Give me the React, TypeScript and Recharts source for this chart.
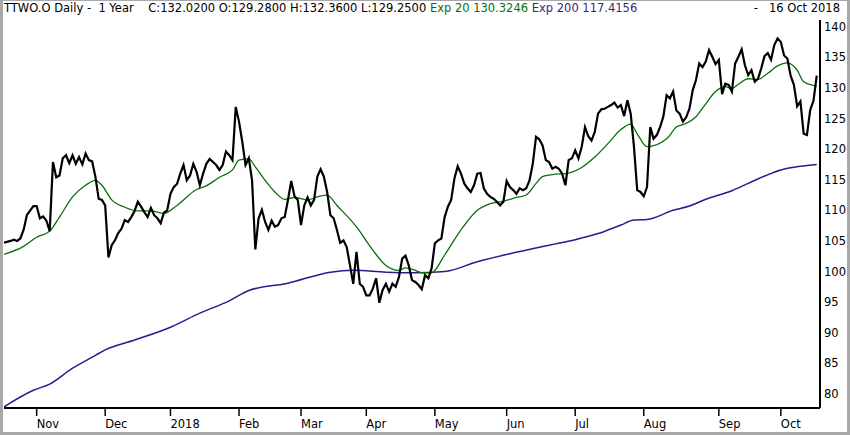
import React from "react";
import { LineChart, XAxis, YAxis, Line } from "recharts";

// trading-day index (0 = first bar on the chart) and value
const closePrices: [number, number][] = [
  [0, 104.7], [2, 105.0], [3, 105.2], [4, 105.0], [5, 105.4], [6, 106.8], [7, 109.2], [9, 110.7],
  [10, 110.7], [11, 108.7], [12, 109.0], [13, 108.3], [14, 106.6], [15, 117.9], [16, 115.4], [17, 115.7],
  [18, 118.5], [19, 119.0], [20, 117.7], [21, 119.0], [22, 117.6], [23, 118.7], [24, 117.5], [25, 119.3],
  [26, 118.2], [27, 118.0], [28, 115.5], [29, 111.9], [30, 111.7], [31, 110.8], [32, 102.3], [33, 104.3],
  [34, 105.1], [35, 106.3], [36, 107.0], [37, 108.4], [38, 108.1], [39, 108.9], [40, 109.9], [41, 111.4],
  [42, 110.6], [43, 109.7], [44, 108.9], [45, 110.4], [46, 109.2], [47, 108.7], [48, 107.9], [49, 109.6],
  [50, 110.0], [51, 112.7], [52, 113.8], [53, 114.3], [54, 116.0], [55, 117.4], [56, 114.9], [57, 115.7],
  [58, 117.6], [59, 116.3], [60, 114.1], [61, 116.0], [62, 117.6], [63, 118.4], [65, 117.4], [66, 116.6],
  [67, 117.4], [68, 119.6], [69, 119.0], [70, 118.2], [71, 126.9], [72, 124.5], [73, 121.2], [74, 117.4],
  [75, 118.5], [76, 114.9], [77, 103.6], [78, 108.7], [79, 110.1], [80, 108.1], [81, 106.8], [82, 108.3],
  [83, 107.3], [84, 107.6], [85, 108.7], [86, 108.9], [87, 111.7], [88, 114.8], [89, 112.3], [90, 111.7],
  [91, 107.6], [92, 110.8], [93, 112.1], [94, 110.8], [95, 111.7], [96, 115.5], [97, 116.7], [98, 115.5],
  [99, 113.0], [100, 109.2], [101, 108.7], [102, 106.8], [103, 104.7], [104, 105.1], [105, 104.0], [106, 101.0],
  [107, 98.0], [108, 103.2], [109, 98.0], [110, 97.5], [111, 96.1], [112, 96.1], [113, 97.2], [114, 98.9],
  [115, 94.9], [116, 97.0], [117, 98.0], [118, 96.7], [119, 98.0], [120, 97.5], [121, 99.1], [122, 102.1],
  [123, 102.6], [124, 101.0], [125, 98.6], [126, 98.3], [127, 97.8], [128, 97.1], [129, 99.4], [130, 98.9],
  [131, 100.5], [132, 104.6], [133, 105.1], [134, 105.4], [135, 108.9], [136, 110.6], [137, 111.7], [138, 115.2],
  [139, 117.2], [140, 116.0], [141, 114.4], [142, 113.6], [143, 113.0], [144, 114.1], [145, 116.0], [146, 116.1],
  [147, 113.6], [148, 112.7], [149, 112.2], [150, 111.9], [151, 111.4], [152, 110.8], [153, 111.4], [154, 114.8],
  [155, 113.8], [156, 113.3], [157, 112.7], [158, 113.6], [159, 113.3], [160, 113.6], [161, 114.9], [162, 117.6],
  [163, 122.0], [164, 121.6], [165, 120.6], [166, 118.2], [167, 117.9], [168, 116.8], [169, 117.1], [170, 116.8],
  [171, 116.0], [172, 114.1], [173, 118.2], [174, 118.5], [175, 119.8], [176, 118.5], [177, 120.4], [178, 123.6],
  [179, 122.1], [180, 121.4], [181, 122.8], [182, 125.8], [183, 126.5], [184, 126.6], [185, 126.9], [186, 127.2],
  [187, 127.6], [188, 126.8], [189, 127.2], [190, 125.4], [191, 128.0], [192, 125.8], [193, 120.4], [194, 113.3],
  [195, 113.0], [196, 112.3], [197, 113.8], [198, 123.6], [199, 121.7], [200, 122.3], [201, 123.6], [202, 125.3],
  [203, 128.8], [204, 128.3], [205, 129.4], [206, 126.3], [207, 125.8], [208, 124.5], [209, 125.2], [210, 126.6],
  [211, 129.6], [212, 131.3], [213, 134.0], [214, 133.4], [215, 134.3], [216, 136.2], [217, 135.1], [218, 133.9],
  [219, 134.6], [220, 129.0], [221, 130.7], [222, 130.5], [223, 129.4], [224, 134.0], [225, 135.1], [226, 136.3],
  [227, 133.7], [228, 132.1], [229, 132.9], [230, 131.0], [231, 131.5], [232, 133.2], [233, 135.2], [234, 135.7],
  [235, 134.6], [236, 137.0], [237, 138.1], [238, 137.5], [239, 135.3], [240, 134.8], [241, 132.0], [242, 130.5],
  [243, 127.0], [244, 127.8], [245, 122.5], [246, 122.3], [247, 126.4], [248, 127.9], [249, 132.0],
];

const exp20: [number, number][] = [
  [0, 102.8], [6, 104.1], [10, 105.6], [14, 106.6], [17, 108.9], [21, 112.2], [25, 114.1], [28, 114.9],
  [30, 114.1], [33, 111.7], [37, 110.5], [41, 109.9], [45, 109.9], [49, 109.5], [53, 110.8], [59, 113.4],
  [62, 114.0], [66, 115.4], [70, 116.6], [72, 118.2], [75, 118.4], [77, 117.1], [80, 114.9], [83, 113.0],
  [86, 111.8], [89, 112.1], [93, 111.7], [96, 112.2], [99, 112.5], [102, 110.8], [108, 107.3], [113, 103.5],
  [117, 101.0], [121, 100.2], [123, 100.6], [126, 100.2], [128, 99.8], [131, 99.8], [135, 102.7], [140, 106.8],
  [145, 110.0], [149, 111.1], [153, 111.5], [157, 112.1], [160, 112.5], [163, 114.4], [165, 115.5], [169, 115.9],
  [172, 116.0], [177, 117.0], [181, 118.7], [185, 120.9], [189, 123.2], [192, 124.1], [194, 122.5], [197, 120.4],
  [203, 121.7], [206, 123.6], [209, 124.2], [212, 125.3], [215, 127.4], [218, 129.4], [221, 130.2], [223, 129.9],
  [225, 130.6], [228, 131.5], [231, 131.4], [234, 132.4], [237, 133.6], [240, 134.1], [243, 132.9], [245, 131.0],
  [248, 130.4], [249, 130.3],
];

const exp200: [number, number][] = [
  [0, 77.9], [9, 80.6], [14, 81.6], [21, 84.2], [28, 86.3], [31, 87.2], [40, 88.8], [51, 90.9],
  [60, 93.2], [69, 95.2], [75, 96.9], [87, 98.1], [100, 99.9], [107, 100.2], [117, 99.9], [126, 99.8],
  [135, 100.0], [145, 101.6], [155, 102.9], [167, 104.3], [175, 105.2], [182, 106.2], [189, 107.6], [193, 108.4],
  [197, 108.5], [205, 110.0], [210, 110.7], [215, 111.8], [223, 113.2], [228, 114.4], [238, 116.6], [244, 117.2],
  [249, 117.5],
];

const monthTicks = [10, 31, 51, 72, 91, 111, 132, 154, 175, 196, 219, 238];
const monthLabels = ["Nov", "Dec", "2018", "Feb", "Mar", "Apr", "May", "Jun", "Jul", "Aug", "Sep", "Oct"];
const priceTicks = [80, 85, 90, 95, 100, 105, 110, 115, 120, 125, 130, 135, 140];

const toRows = (pts: [number, number][]) => pts.map(([day, v]) => ({ day, v }));

const FONT = "'DejaVu Sans', sans-serif";

const MonthTick = (props: any) => {
  const { x, y, payload } = props;
  const label = monthLabels[monthTicks.indexOf(payload.value)];
  return (
    <text x={x} y={y} dy="0.71em" textAnchor="start" fontSize={11.5} fontFamily={FONT} fill="#000">
      {label}
    </text>
  );
};

export default function App() {
  return (
    <div style={{ position: "absolute", left: 0, top: 0, width: 850, height: 435, background: "#fff" }}>
      <LineChart width={850} height={435} margin={{ top: 20, right: 0, bottom: 0, left: 4 }}>
        <XAxis
          type="number"
          dataKey="day"
          domain={[0, 250]}
          ticks={monthTicks}
          allowDataOverflow
          height={27}
          axisLine={{ stroke: "#000", strokeWidth: 2 }}
          tickLine={{ stroke: "#000", strokeWidth: 1.5 }}
          tickSize={8}
          tickMargin={4}
          tick={<MonthTick />}
        />
        <YAxis
          orientation="right"
          type="number"
          domain={[77.7, 141.1]}
          ticks={priceTicks}
          allowDataOverflow
          width={30}
          axisLine={{ stroke: "#000", strokeWidth: 2 }}
          tickLine={false}
          tickSize={0}
          tickMargin={4}
          tick={{ fontSize: 11.5, fontFamily: FONT, fill: "#000" }}
        />
        <Line
          data={toRows(exp200)}
          dataKey="v"
          type="monotone"
          stroke="#35168f"
          strokeWidth={1.5}
          dot={false}
          isAnimationActive={false}
        />
        <Line
          data={toRows(exp20)}
          dataKey="v"
          type="monotone"
          stroke="#0a700a"
          strokeWidth={1.3}
          dot={false}
          isAnimationActive={false}
        />
        <Line
          data={toRows(closePrices)}
          dataKey="v"
          type="linear"
          stroke="#000"
          strokeWidth={2.2}
          dot={false}
          isAnimationActive={false}
        />
      </LineChart>
      <div
        style={{
          position: "absolute",
          left: 4,
          top: 1,
          fontFamily: FONT,
          fontSize: 11.5,
          lineHeight: "14px",
          whiteSpace: "pre",
          color: "#000",
        }}
      >
        {"TTWO.O Daily -  1 Year    C:132.0200 O:129.2800 H:132.3600 L:129.2500 "}
        <span style={{ color: "#0a700a" }}>Exp 20 130.3246 </span>
        <span style={{ color: "#3a1f86" }}>Exp 200 117.4156</span>
      </div>
      <div
        style={{
          position: "absolute",
          right: 10,
          top: 1,
          fontFamily: FONT,
          fontSize: 11.5,
          lineHeight: "14px",
          whiteSpace: "pre",
          color: "#000",
        }}
      >
        {"-   16 Oct 2018"}
      </div>
      <div
        style={{
          position: "absolute",
          left: 0,
          top: 0,
          width: 850,
          height: 435,
          boxSizing: "border-box",
          borderStyle: "solid",
          borderColor: "#a8a8a8",
          borderWidth: "1px 3px 3px 3px",
          pointerEvents: "none",
        }}
      />
    </div>
  );
}
